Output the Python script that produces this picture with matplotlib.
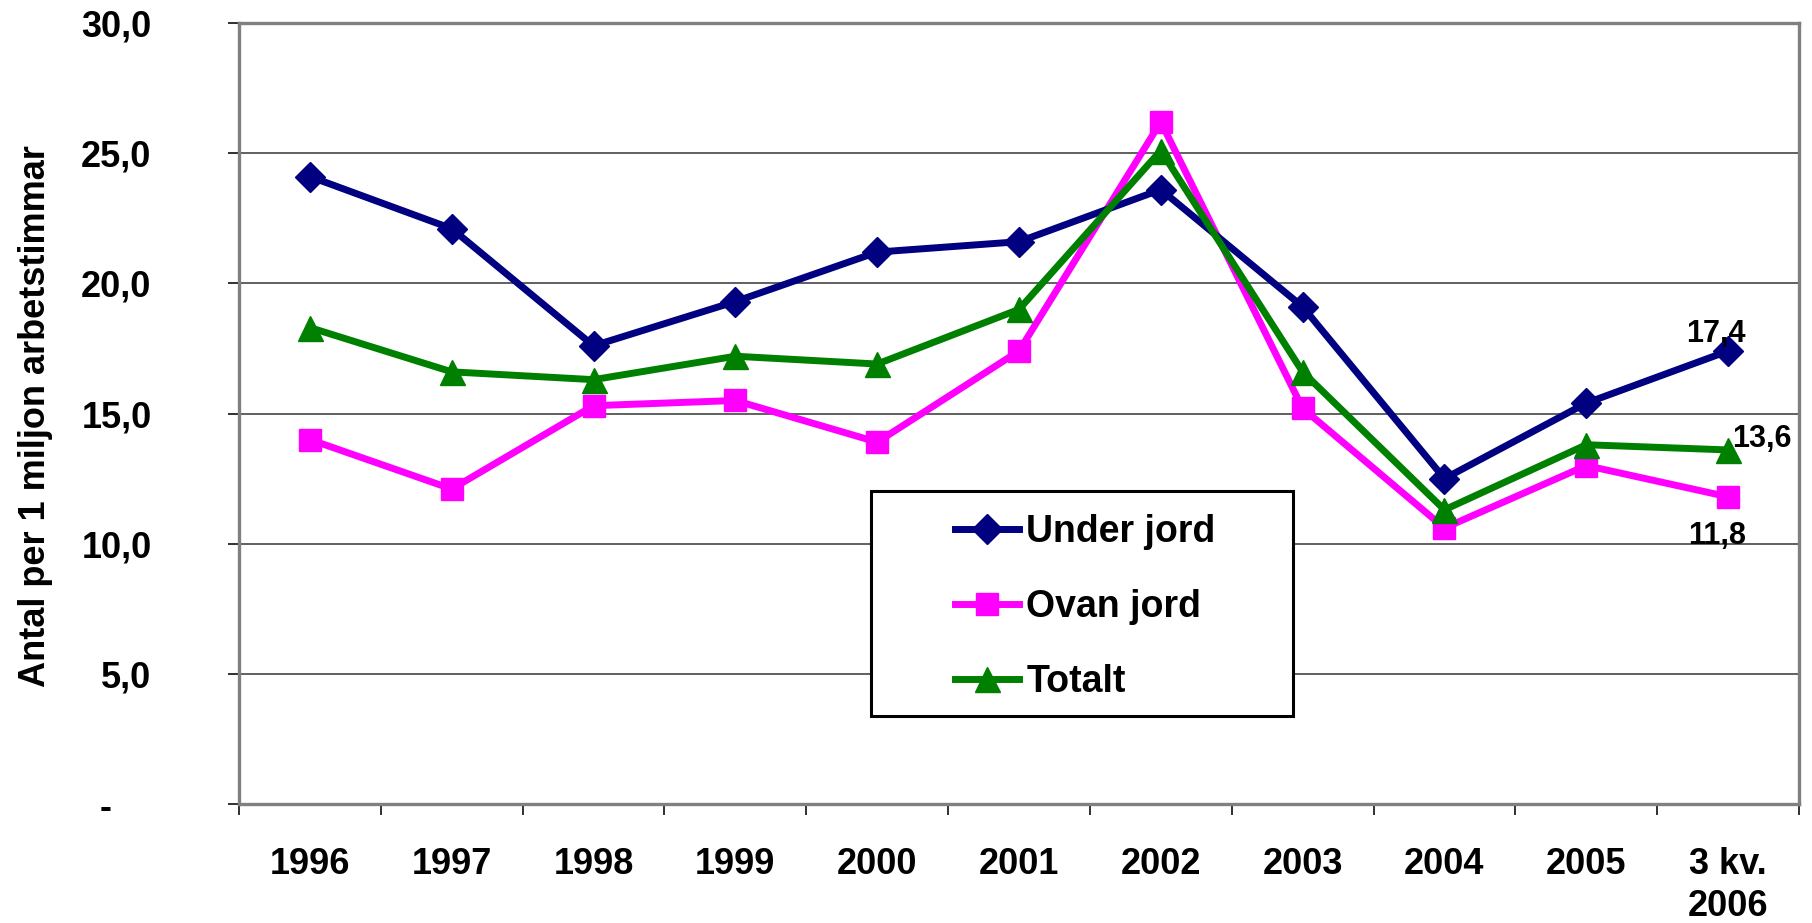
import matplotlib
matplotlib.use("Agg")
import matplotlib.pyplot as plt
from matplotlib.patches import Rectangle
import numpy as np

categories = ["1996", "1997", "1998", "1999", "2000", "2001", "2002", "2003", "2004", "2005", "3 kv.\n2006"]
under_jord = [24.1, 22.1, 17.6, 19.3, 21.2, 21.6, 23.6, 19.1, 12.5, 15.4, 17.4]
ovan_jord = [14.0, 12.1, 15.3, 15.5, 13.9, 17.4, 26.2, 15.2, 10.6, 13.0, 11.8]
totalt = [18.3, 16.6, 16.3, 17.2, 16.9, 19.0, 25.1, 16.6, 11.3, 13.8, 13.6]
y_ticks = [0, 5, 10, 15, 20, 25, 30]
y_ticklabels = ["-    ", "5,0", "10,0", "15,0", "20,0", "25,0", "30,0"]

plt.rcParams['font.family'] = ['Liberation Sans', 'DejaVu Sans']
plt.rcParams['font.weight'] = 'bold'

fig = plt.figure(figsize=(18.12, 9.23), dpi=100)
ax = fig.add_axes([239/1812, 1 - 804/923, 1560/1812, 781/923])

x = np.arange(len(categories))
lw = 5.0
ax.plot(x, under_jord, color="#000080", lw=lw, marker="D", ms=15, label="Under jord", zorder=5)
ax.plot(x, ovan_jord, color="#FF00FF", lw=lw, marker="s", ms=16, label="Ovan jord", zorder=4)
ax.plot(x, totalt, color="#008000", lw=lw, marker="^", ms=18, label="Totalt", zorder=6)

ax.set_xlim(-0.5, len(categories) - 0.5)
ax.set_ylim(0, 30)
ax.set_yticks(y_ticks)
ax.set_yticklabels(y_ticklabels, fontsize=26, fontweight='bold')
ax.set_xticks(x)
ax.set_xticklabels(categories, fontsize=26, fontweight='bold', va='top', linespacing=1.25)
ax.set_xticks(np.arange(len(categories) + 1) - 0.5, minor=True)
ax.tick_params(axis='x', which='major', length=0, pad=31)
ax.tick_params(axis='x', which='minor', length=8, width=1.3, color='#202020')
ax.tick_params(axis='y', length=8, width=1.3, color='#202020', pad=55)

for yv in y_ticks[1:]:
    ax.axhline(yv, color='#606060', lw=1.4, zorder=1)
for s in ax.spines.values():
    s.set_color('#808080')
    s.set_linewidth(2.4)

ax.set_ylabel("Antal per 1 miljon arbetstimmar", fontsize=26, fontweight='bold')
ax.yaxis.set_label_coords(-0.1195, 0.497)

last = len(categories) - 1
ax.annotate("17,4", (x[last], under_jord[last]), xytext=(-9, 12), textcoords='offset points',
            ha='center', va='center', fontsize=22, fontweight='bold', zorder=9)
ax.annotate("13,6", (x[last], totalt[last]), xytext=(24, 8), textcoords='offset points',
            ha='center', va='center', fontsize=22, fontweight='bold', zorder=9)
ax.annotate("11,8", (x[last], ovan_jord[last]), xytext=(-8, -28), textcoords='offset points',
            ha='center', va='center', fontsize=22, fontweight='bold', zorder=9)

box = Rectangle((0.405, 0.1127), 0.2705, 0.288, transform=ax.transAxes,
                facecolor='white', edgecolor='black', lw=2.2, zorder=7)
ax.add_patch(box)
leg = ax.legend(loc='upper left', bbox_to_anchor=(0.459, 0.371), frameon=False,
                fontsize=27, borderpad=0, borderaxespad=0, labelspacing=1.04,
                handlelength=1.7, handletextpad=0.2, markerscale=1.0)
leg.set_zorder(8)
for t in leg.get_texts():
    t.set_fontweight('bold')

fig.savefig("out.png", dpi=100)
